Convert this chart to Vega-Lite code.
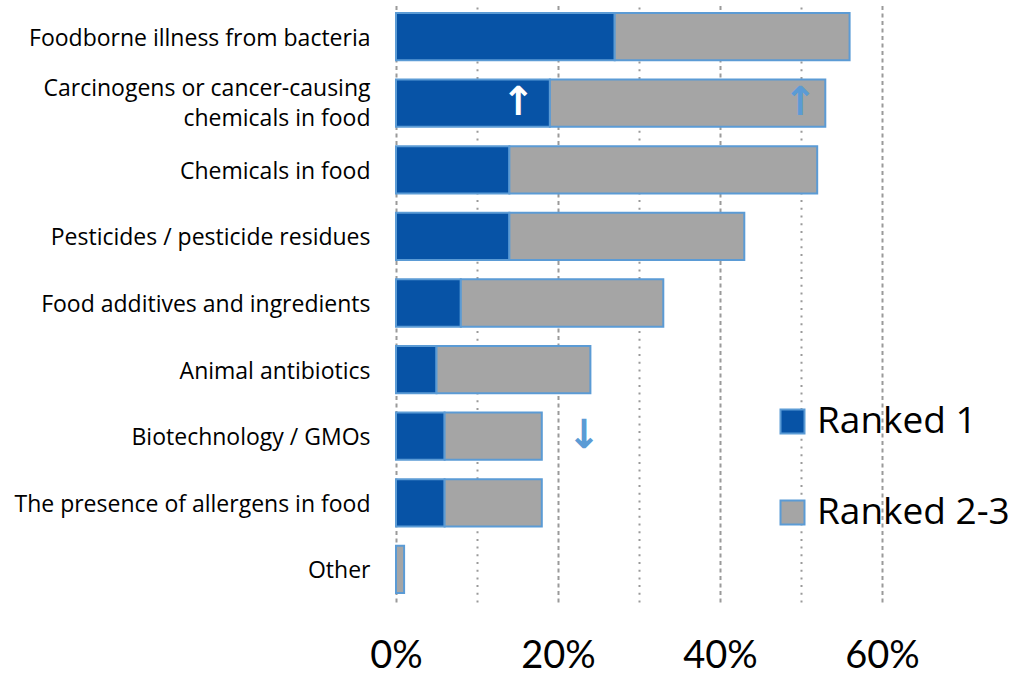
{
  "$schema": "https://vega.github.io/schema/vega-lite/v6.json",
  "autosize": {"type": "none"},
  "padding": {"left": 396, "top": 4, "right": 136, "bottom": 76},
  "width": 486,
  "height": 598,
  "background": "white",
  "config": {
    "view": {"stroke": null},
    "font": "Open Sans, sans-serif"
  },
  "datasets": {
    "shares": [
      {"concern": "Foodborne illness from bacteria", "rank": "Ranked 1", "share": 27},
      {"concern": "Foodborne illness from bacteria", "rank": "Ranked 2-3", "share": 29},
      {"concern": "Carcinogens or cancer-causing chemicals in food", "rank": "Ranked 1", "share": 19},
      {"concern": "Carcinogens or cancer-causing chemicals in food", "rank": "Ranked 2-3", "share": 34},
      {"concern": "Chemicals in food", "rank": "Ranked 1", "share": 14},
      {"concern": "Chemicals in food", "rank": "Ranked 2-3", "share": 38},
      {"concern": "Pesticides / pesticide residues", "rank": "Ranked 1", "share": 14},
      {"concern": "Pesticides / pesticide residues", "rank": "Ranked 2-3", "share": 29},
      {"concern": "Food additives and ingredients", "rank": "Ranked 1", "share": 8},
      {"concern": "Food additives and ingredients", "rank": "Ranked 2-3", "share": 25},
      {"concern": "Animal antibiotics", "rank": "Ranked 1", "share": 5},
      {"concern": "Animal antibiotics", "rank": "Ranked 2-3", "share": 19},
      {"concern": "Biotechnology / GMOs", "rank": "Ranked 1", "share": 6},
      {"concern": "Biotechnology / GMOs", "rank": "Ranked 2-3", "share": 12},
      {"concern": "The presence of allergens in food", "rank": "Ranked 1", "share": 6},
      {"concern": "The presence of allergens in food", "rank": "Ranked 2-3", "share": 12},
      {"concern": "Other", "rank": "Ranked 1", "share": 0},
      {"concern": "Other", "rank": "Ranked 2-3", "share": 1}
    ],
    "arrows": [
      {"concern": "Carcinogens or cancer-causing chemicals in food", "rank": "Ranked 1", "direction": "up", "glyph": "↑", "position": 15.1},
      {"concern": "Carcinogens or cancer-causing chemicals in food", "rank": "Ranked 2-3", "direction": "up", "glyph": "↑", "position": 49.9},
      {"concern": "Biotechnology / GMOs", "rank": "Ranked 2-3", "direction": "down", "glyph": "↓", "position": 23.2}
    ]
  },
  "encoding": {
    "y": {
      "field": "concern",
      "type": "nominal",
      "sort": null,
      "scale": {
        "domain": ["Foodborne illness from bacteria", "Carcinogens or cancer-causing chemicals in food", "Chemicals in food", "Pesticides / pesticide residues", "Food additives and ingredients", "Animal antibiotics", "Biotechnology / GMOs", "The presence of allergens in food", "Other"],
        "paddingInner": 0.29,
        "paddingOuter": 0.135
      },
      "axis": {
        "title": null,
        "domain": false,
        "ticks": false,
        "labelPadding": 26,
        "labelFont": "Open Sans",
        "labelFontSize": 23,
        "labelColor": "#000000",
        "labelLimit": 420,
        "labelLineHeight": 30,
        "labelOffset": {"expr": "datum.value == 'Carcinogens or cancer-causing chemicals in food' ? -14 : 2"},
        "labelExpr": "datum.label == 'Carcinogens or cancer-causing chemicals in food' ? ['Carcinogens or cancer-causing', 'chemicals in food'] : datum.label == 'Biotechnology / GMOs' ? 'Biotechnology / GMOs ' : datum.label"
      }
    }
  },
  "layer": [
    {
      "data": {"name": "shares"},
      "mark": {"type": "bar", "stroke": "#5B9BD5", "strokeWidth": 2},
      "encoding": {
        "x": {
          "field": "share",
          "type": "quantitative",
          "stack": "zero",
          "scale": {"domain": [0, 60], "nice": false, "zero": true},
          "axis": {
            "title": null,
            "domain": false,
            "ticks": false,
            "values": [0, 10, 20, 30, 40, 50, 60],
            "labelExpr": "datum.value % 20 === 0 ? datum.value + '%' : ''",
            "labelFont": "Lato",
            "labelFontSize": 38,
            "labelColor": "#000000",
            "labelPadding": 35,
            "labelFlush": false,
            "labelOverlap": false,
            "grid": true,
            "gridColor": "#9a9a9a",
            "gridWidth": 2,
            "gridDash": {"condition": {"test": "datum.value % 20 === 0", "value": [4, 3.5]}, "value": [2, 5.7]}
          }
        },
        "color": {
          "field": "rank",
          "type": "nominal",
          "scale": {"domain": ["Ranked 1", "Ranked 2-3"], "range": ["#0753A6", "#A5A5A5"]},
          "legend": {
            "title": null,
            "orient": "none",
            "legendX": 378,
            "legendY": 399,
            "symbolType": "square",
            "symbolSize": 576,
            "symbolStrokeColor": "#5B9BD5",
            "symbolStrokeWidth": 2,
            "symbolOpacity": 1,
            "labelFont": "Open Sans",
            "labelFontSize": 37,
            "labelColor": "#000000",
            "labelLimit": 300,
            "labelOffset": 6,
            "rowPadding": 53
          }
        },
        "order": {"field": "rank", "sort": "ascending"}
      }
    },
    {
      "data": {"name": "arrows"},
      "transform": [{"filter": "datum.rank == 'Ranked 1'"}],
      "mark": {"type": "text", "font": "DejaVu Sans", "fontSize": 40, "fontWeight": "bold", "color": "#FFFFFF", "baseline": "middle"},
      "encoding": {
        "x": {"field": "position", "type": "quantitative"},
        "text": {"field": "glyph"}
      }
    },
    {
      "data": {"name": "arrows"},
      "transform": [{"filter": "datum.rank == 'Ranked 2-3'"}],
      "mark": {"type": "text", "font": "DejaVu Sans", "fontSize": 40, "fontWeight": "bold", "color": "#5B9BD5", "baseline": "middle"},
      "encoding": {
        "x": {"field": "position", "type": "quantitative"},
        "text": {"field": "glyph"}
      }
    }
  ]
}
